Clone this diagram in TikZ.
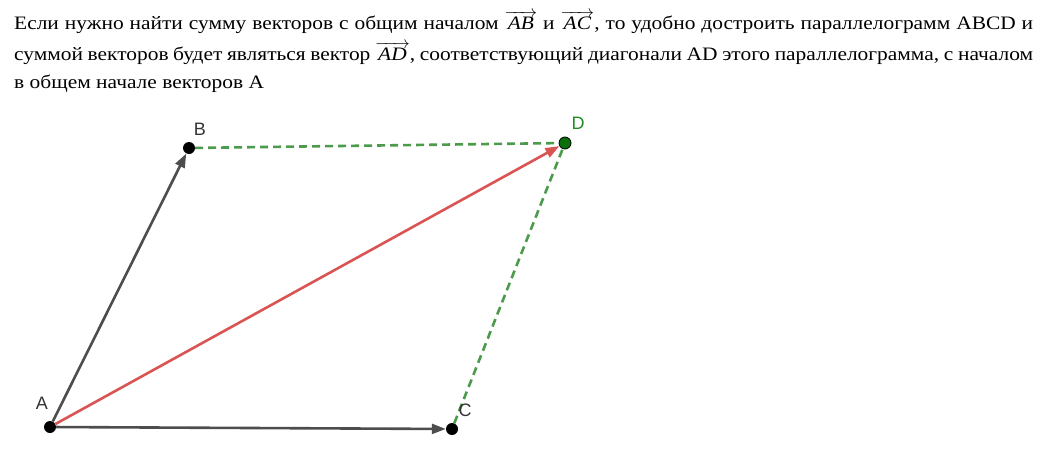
\documentclass[tikz,border=0pt]{standalone}
\usepackage{fontspec}
\setmainfont{Liberation Serif}[FakeStretch=1.127]
\newfontfamily\labelfont{Liberation Sans}
\usetikzlibrary{arrows.meta}
\definecolor{vecgray}{HTML}{4D4D4D}
\definecolor{vecred}{HTML}{DB5454}
\definecolor{dashgreen}{HTML}{4C9A4C}
\definecolor{ptgreen}{HTML}{0A6E0A}
\definecolor{lblgreen}{HTML}{228B22}
\definecolor{lblgray}{HTML}{333333}
\newcommand{\vecname}[1]{$\overrightarrow{\hbox{\itshape\,#1\,}}$}

\begin{document}
\begin{tikzpicture}[x=1pt,y=-1pt,
		pt/.style={circle,fill=black,inner sep=0pt,minimum size=12pt},
		vec/.style={line width=2.6pt,-{Triangle[length=14pt,width=10pt]}},
		side/.style={line width=2.6pt,dashgreen,dash pattern=on 8pt off 5pt},
		txt/.style={anchor=base west,inner sep=0pt,font=\fontsize{19}{23}\selectfont},
		lbl/.style={font=\labelfont\fontsize{18}{18}\selectfont,text=lblgray,inner sep=0pt}]
		\useasboundingbox (0,0) rectangle (1052,455);
		%
		\node[txt] (line1) at (14,29)
			{\hbox to 1019pt{Если нужно найти сумму векторов с общим началом \vecname{AB} и \vecname{AC}, то удобно достроить параллелограмм ABCD и}};
		\node[txt] (line2) at (14,60)
			{\hbox to 1019pt{суммой векторов будет являться вектор \vecname{AD}, соответствующий диагонали AD этого параллелограмма, с началом}};
		\node[txt] (line3) at (14,88)
			{в общем начале векторов A};
		%
		\node[pt] (A) at (50,427) {};
		\node[pt] (B) at (189,148) {};
		\node[pt] (C) at (452,429) {};
		\node[pt,fill=ptgreen,draw=black,line width=0.8pt] (D) at (565,143) {};
		%
		\draw[side] (B) -- (D);
		\draw[side] (C) -- (D);
		\draw[vec,vecgray] (A) -- (B);
		\draw[vec,vecgray] (A) -- (C);
		\draw[vec,vecred] (A) -- (D);
		%
		\node[lbl] (la) at (42,403) {A};
		\node[lbl] (lb) at (200,129) {B};
		\node[lbl] (lc) at (465,410) {C};
		\node[lbl,text=lblgreen] (ld) at (578,123) {D};
	\end{tikzpicture}
\end{document}
